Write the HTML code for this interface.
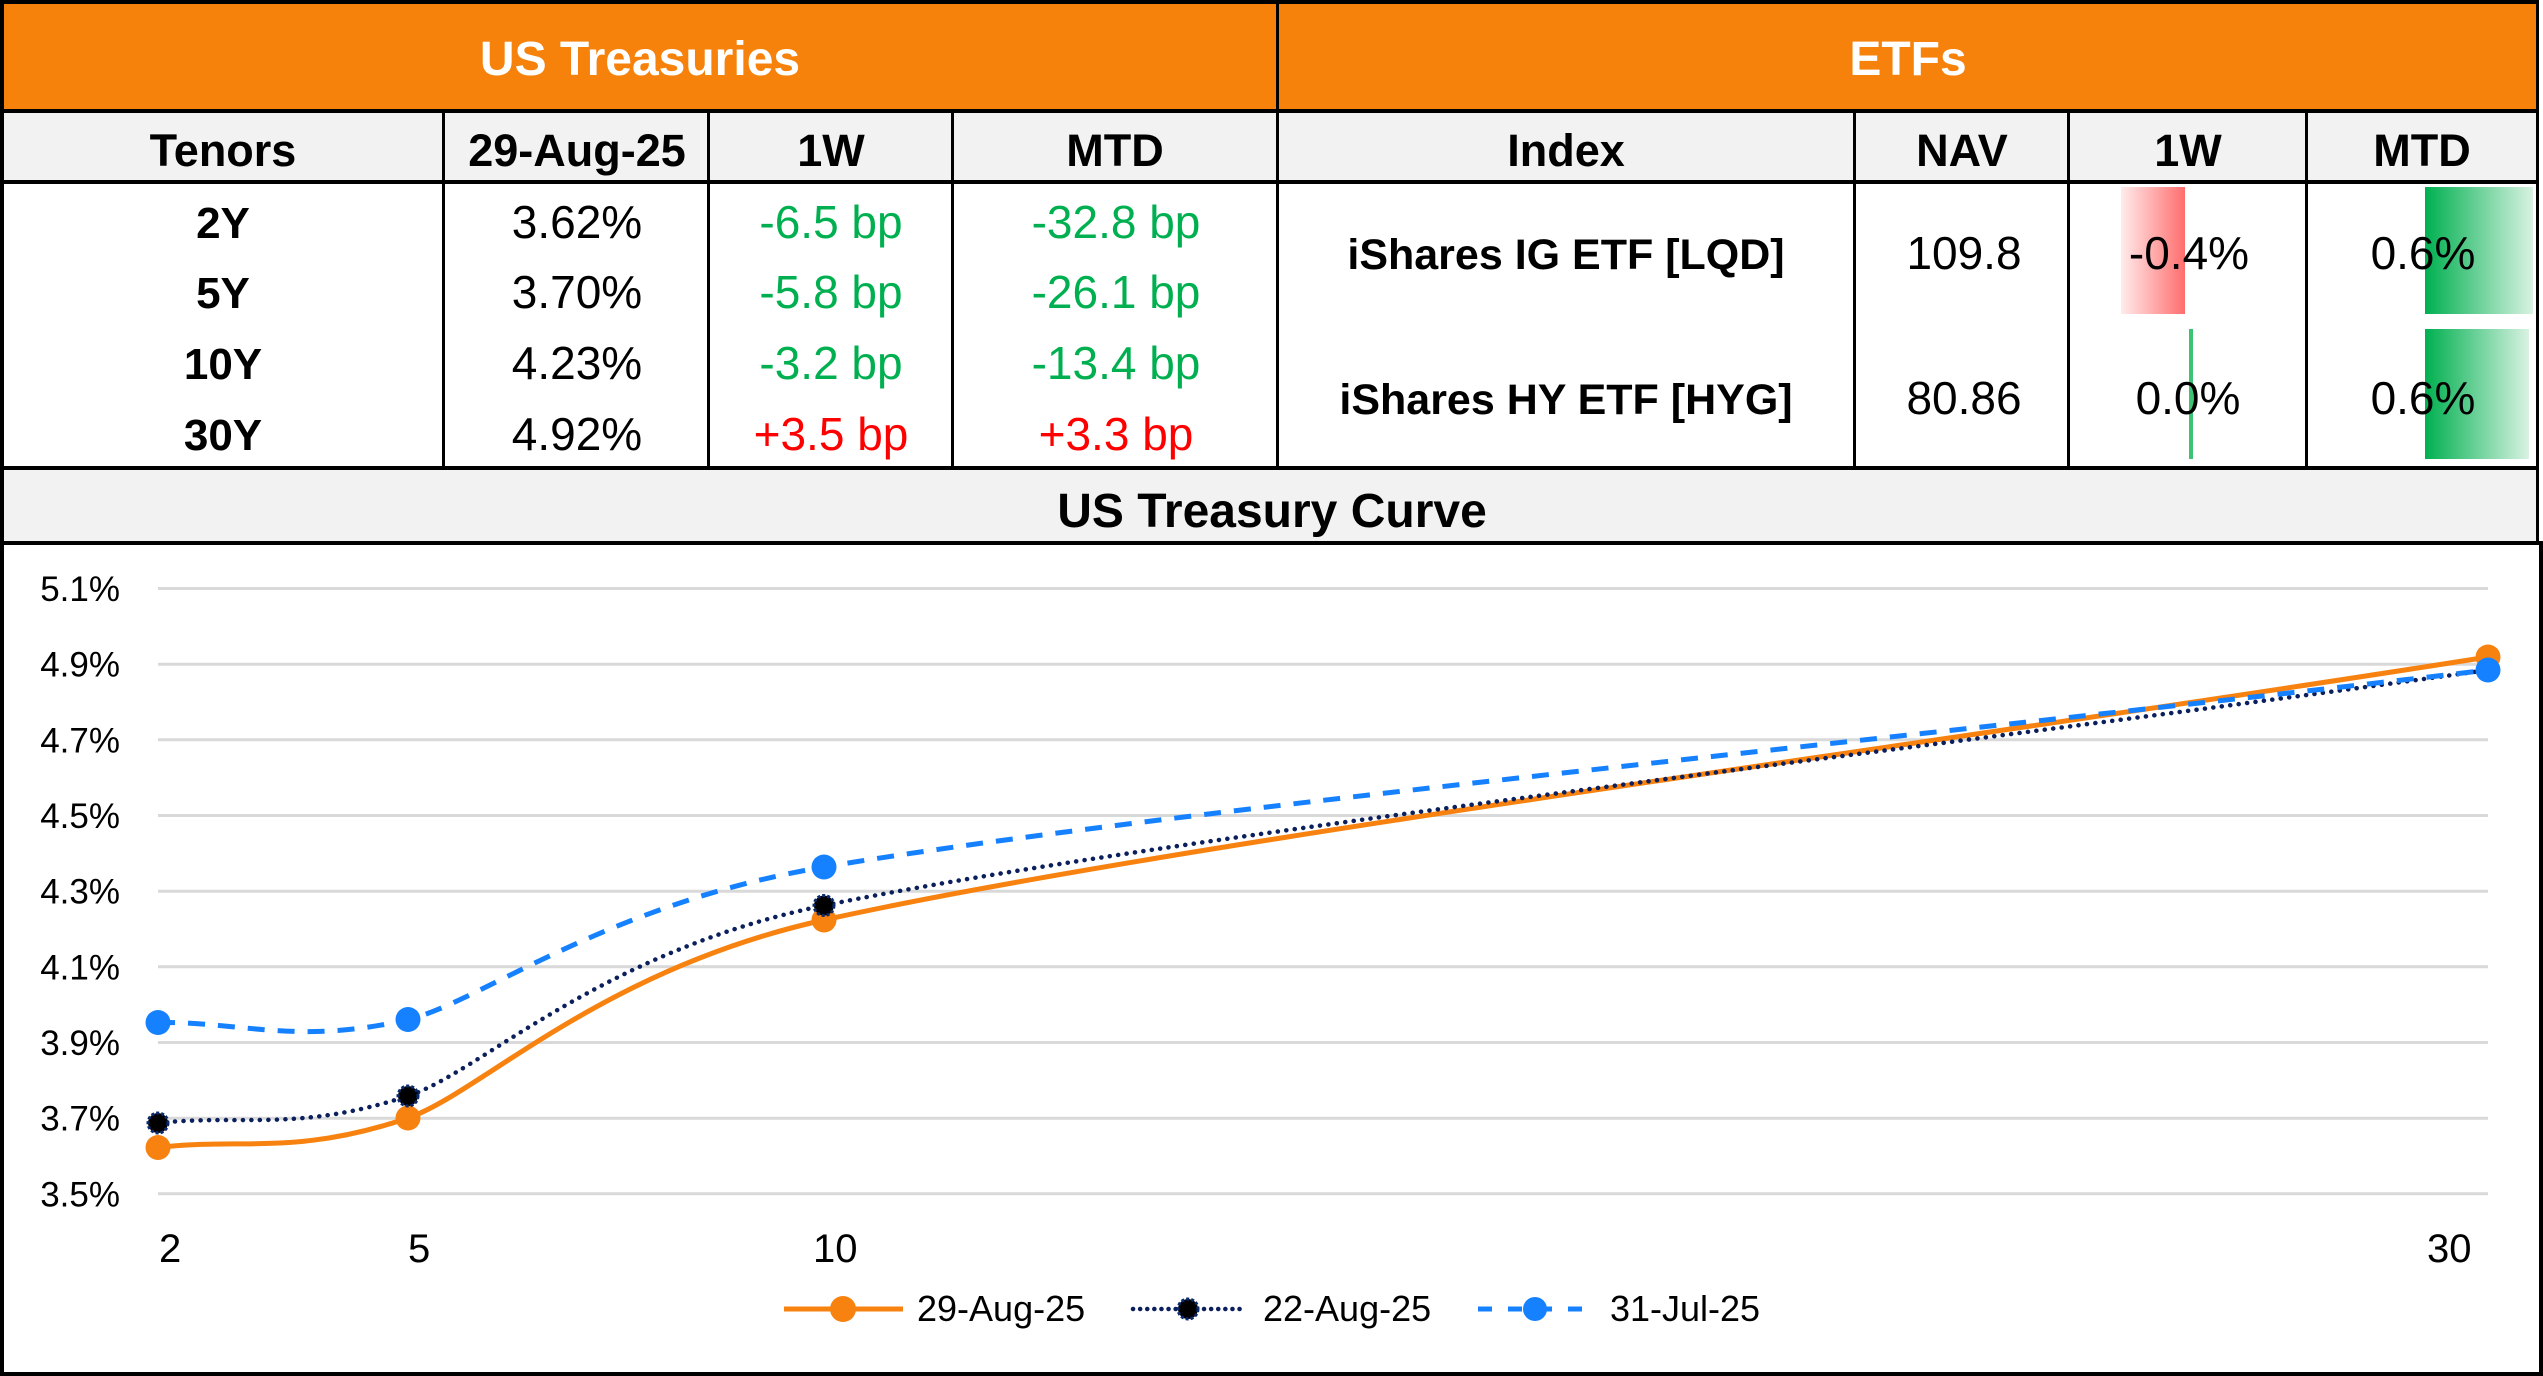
<!DOCTYPE html>
<html>
<head>
<meta charset="utf-8">
<style>
  html, body { margin:0; padding:0; background:#ffffff; }
  body { width:2543px; height:1376px; overflow:hidden; }
  svg { display:block; }
  text { font-family: "Liberation Sans", Arial, sans-serif; }
</style>
</head>
<body>
<svg width="2543" height="1376" viewBox="0 0 2543 1376" xmlns="http://www.w3.org/2000/svg">
  <defs>
    <linearGradient id="redGrad" x1="0" y1="0" x2="1" y2="0">
      <stop offset="0" stop-color="#ffecec"/>
      <stop offset="1" stop-color="#ff6d6d"/>
    </linearGradient>
    <linearGradient id="greenGrad" x1="0" y1="0" x2="1" y2="0">
      <stop offset="0" stop-color="#00b050"/>
      <stop offset="1" stop-color="#d8f2e2"/>
    </linearGradient>
  </defs>

  <!-- background -->
  <rect x="0" y="0" width="2543" height="1376" fill="#ffffff"/>

  <!-- orange header -->
  <rect x="4" y="4" width="1272" height="105" fill="#f7820b"/>
  <rect x="1279" y="4" width="1257" height="105" fill="#f7820b"/>

  <!-- header row gray -->
  <rect x="4" y="113" width="2532" height="67" fill="#f2f2f2"/>
  <!-- title row gray -->
  <rect x="4" y="470" width="2532" height="71" fill="#f2f2f2"/>

  <!-- data bars (ETF) -->
  <rect x="2121" y="187" width="64" height="127" fill="url(#redGrad)"/>
  <rect x="2189" y="329" width="4" height="130" fill="#3cc474"/>
  <rect x="2425" y="187" width="108" height="127" fill="url(#greenGrad)"/>
  <rect x="2425" y="329" width="104" height="130" fill="url(#greenGrad)"/>

  <!-- horizontal borders -->
  <rect x="0" y="0" width="2539" height="4" fill="#000"/>
  <rect x="0" y="109" width="2539" height="4" fill="#000"/>
  <rect x="0" y="180" width="2539" height="4" fill="#000"/>
  <rect x="0" y="466" width="2539" height="4" fill="#000"/>
  <rect x="0" y="541" width="2543" height="4" fill="#000"/>
  <rect x="0" y="1372" width="2543" height="4" fill="#000"/>

  <!-- vertical borders -->
  <rect x="0" y="0" width="4" height="1376" fill="#000"/>
  <rect x="2536" y="0" width="3" height="545" fill="#000"/>
  <rect x="2539" y="541" width="4" height="835" fill="#000"/>
  <rect x="1276" y="0" width="3" height="470" fill="#000"/>
  <rect x="442" y="109" width="3" height="361" fill="#000"/>
  <rect x="707" y="109" width="3" height="361" fill="#000"/>
  <rect x="951" y="109" width="3" height="361" fill="#000"/>
  <rect x="1853" y="109" width="3" height="361" fill="#000"/>
  <rect x="2067" y="109" width="3" height="361" fill="#000"/>
  <rect x="2305" y="109" width="3" height="361" fill="#000"/>

  <!-- section titles -->
  <text x="640" y="75" font-size="48" font-weight="bold" fill="#ffffff" text-anchor="middle">US Treasuries</text>
  <text x="1908" y="75" font-size="48" font-weight="bold" fill="#ffffff" text-anchor="middle">ETFs</text>

  <!-- column headers -->
  <g font-size="45" font-weight="bold" fill="#000" text-anchor="middle">
    <text x="223" y="166">Tenors</text>
    <text x="577" y="166">29-Aug-25</text>
    <text x="831" y="166">1W</text>
    <text x="1115" y="166">MTD</text>
    <text x="1566" y="166">Index</text>
    <text x="1962" y="166">NAV</text>
    <text x="2188" y="166">1W</text>
    <text x="2422" y="166">MTD</text>
  </g>

  <!-- treasury rows -->
  <g font-size="44" font-weight="bold" fill="#000" text-anchor="middle">
    <text x="223" y="238">2Y</text>
    <text x="223" y="308">5Y</text>
    <text x="223" y="379">10Y</text>
    <text x="223" y="450">30Y</text>
  </g>
  <g font-size="46" fill="#000" text-anchor="middle">
    <text x="577" y="238">3.62%</text>
    <text x="577" y="308">3.70%</text>
    <text x="577" y="379">4.23%</text>
    <text x="577" y="450">4.92%</text>
  </g>
  <g font-size="46" text-anchor="middle">
    <text x="831" y="238" fill="#00b050">-6.5 bp</text>
    <text x="831" y="308" fill="#00b050">-5.8 bp</text>
    <text x="831" y="379" fill="#00b050">-3.2 bp</text>
    <text x="831" y="450" fill="#ff0000">+3.5 bp</text>
    <text x="1116" y="238" fill="#00b050">-32.8 bp</text>
    <text x="1116" y="308" fill="#00b050">-26.1 bp</text>
    <text x="1116" y="379" fill="#00b050">-13.4 bp</text>
    <text x="1116" y="450" fill="#ff0000">+3.3 bp</text>
  </g>

  <!-- ETF rows -->
  <g font-size="43" font-weight="bold" fill="#000" text-anchor="middle">
    <text x="1566" y="269">iShares IG ETF [LQD]</text>
    <text x="1566" y="414">iShares HY ETF [HYG]</text>
  </g>
  <g font-size="46" fill="#000" text-anchor="middle">
    <text x="1964" y="269">109.8</text>
    <text x="1964" y="414">80.86</text>
    <text x="2189" y="269">-0.4%</text>
    <text x="2188" y="414">0.0%</text>
    <text x="2423" y="269">0.6%</text>
    <text x="2423" y="414">0.6%</text>
  </g>

  <!-- chart title -->
  <text x="1272" y="527" font-size="48" font-weight="bold" fill="#000" text-anchor="middle">US Treasury Curve</text>

  <!-- gridlines -->
  <g stroke="#d9d9d9" stroke-width="3">
    <line x1="158" y1="588.5" x2="2488" y2="588.5"/>
    <line x1="158" y1="664.2" x2="2488" y2="664.2"/>
    <line x1="158" y1="739.8" x2="2488" y2="739.8"/>
    <line x1="158" y1="815.5" x2="2488" y2="815.5"/>
    <line x1="158" y1="891.2" x2="2488" y2="891.2"/>
    <line x1="158" y1="966.8" x2="2488" y2="966.8"/>
    <line x1="158" y1="1042.5" x2="2488" y2="1042.5"/>
    <line x1="158" y1="1118.2" x2="2488" y2="1118.2"/>
    <line x1="158" y1="1193.8" x2="2488" y2="1193.8"/>
  </g>

  <!-- y labels -->
  <g font-size="35" fill="#000" text-anchor="end">
    <text x="120" y="601">5.1%</text>
    <text x="120" y="676.7">4.9%</text>
    <text x="120" y="752.3">4.7%</text>
    <text x="120" y="828">4.5%</text>
    <text x="120" y="903.7">4.3%</text>
    <text x="120" y="979.3">4.1%</text>
    <text x="120" y="1055">3.9%</text>
    <text x="120" y="1130.7">3.7%</text>
    <text x="120" y="1206.3">3.5%</text>
  </g>

  <!-- x labels -->
  <g font-size="40" fill="#000">
    <text x="159" y="1262">2</text>
    <text x="408" y="1262">5</text>
    <text x="813" y="1262">10</text>
    <text x="2427" y="1262">30</text>
  </g>

  <!-- series: 29-Aug-25 (orange solid) -->
  <path d="M158,1147.5 C241.3,1137.7 297,1155.9 408,1118 C480,1093.4 599.1,969.9 824,920 C1170.7,843.2 1933.3,744.7 2488,657"
        fill="none" stroke="#f7820f" stroke-width="5" stroke-linejoin="round"/>
  <g fill="#f7820f">
    <circle cx="158" cy="1147.5" r="12.5"/>
    <circle cx="408" cy="1118" r="12.5"/>
    <circle cx="824" cy="920" r="12.5"/>
    <circle cx="2488" cy="657" r="12.5"/>
  </g>

  <!-- series: 22-Aug-25 (navy dotted) -->
  <path d="M158,1123 C241.3,1114 297,1132.3 408,1096 C479.8,1072.6 599.9,951.4 824,905.5 C1170.7,834.5 1933.3,748.5 2488,670"
        fill="none" stroke="#0a1f5c" stroke-width="4.5" stroke-linecap="round" stroke-dasharray="0.1 8.4"/>
  <g fill="#000" stroke="#0a2a6e" stroke-width="3" stroke-dasharray="3 2">
    <circle cx="158" cy="1123" r="10"/>
    <circle cx="408" cy="1096" r="10"/>
    <circle cx="824" cy="905.5" r="10"/>
    <circle cx="2488" cy="670" r="10"/>
  </g>

  <!-- series: 31-Jul-25 (blue dashed) -->
  <path d="M158,1022.5 C241.3,1021.5 297,1045.4 408,1019.5 C478,1003.2 605.5,903.7 824,867 C1170.7,808.8 1933.3,735.7 2488,670"
        fill="none" stroke="#1581ff" stroke-width="5" stroke-dasharray="17 13"/>
  <g fill="#1581ff">
    <circle cx="158" cy="1022.5" r="12.5"/>
    <circle cx="408" cy="1019.5" r="12.5"/>
    <circle cx="824" cy="867" r="12.5"/>
    <circle cx="2488" cy="670" r="12.5"/>
  </g>

  <!-- legend -->
  <line x1="784" y1="1309" x2="903" y2="1309" stroke="#f7820f" stroke-width="5"/>
  <circle cx="843" cy="1309" r="13" fill="#f7820f"/>
  <text x="917" y="1321" font-size="36" fill="#000">29-Aug-25</text>

  <line x1="1133" y1="1309" x2="1244" y2="1309" stroke="#0a1f5c" stroke-width="4.5" stroke-linecap="round" stroke-dasharray="0.1 7"/>
  <circle cx="1188" cy="1309" r="10" fill="#000" stroke="#0a2a6e" stroke-width="3" stroke-dasharray="3 2"/>
  <text x="1263" y="1321" font-size="36" fill="#000">22-Aug-25</text>

  <line x1="1478" y1="1309" x2="1593" y2="1309" stroke="#1581ff" stroke-width="5" stroke-dasharray="14 16"/>
  <circle cx="1535" cy="1309" r="12" fill="#1581ff"/>
  <text x="1610" y="1321" font-size="36" fill="#000">31-Jul-25</text>
</svg>
</body>
</html>
